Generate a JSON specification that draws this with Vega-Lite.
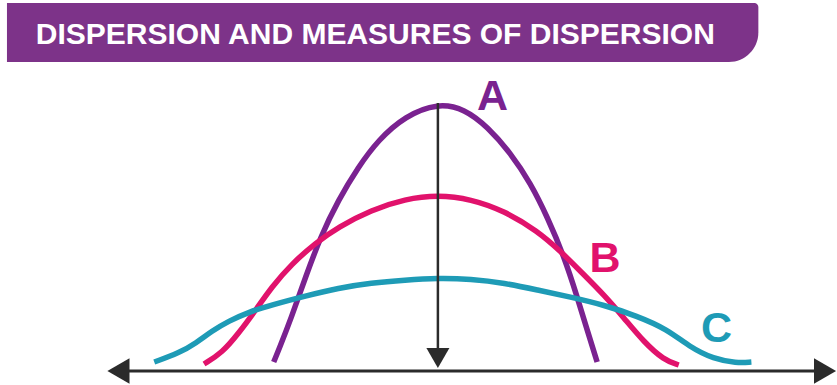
{
  "$schema": "https://vega.github.io/schema/vega-lite/v6.json",
  "width": 837,
  "height": 385,
  "autosize": {"type": "fit", "contains": "padding"},
  "padding": 0,
  "background": "white",
  "config": {"view": {"stroke": null}},
  "datasets": {
    "banner": [{"x": -433, "x2": 322, "y": 368, "y2": 309, "title": "DISPERSION AND MEASURES OF DISPERSION", "tx": -404, "ty": 327}],
    "curves": [
      {"series": "A", "x": -165, "y": 9}, {"series": "A", "x": -160, "y": 21}, {"series": "A", "x": -147, "y": 54},
      {"series": "A", "x": -133, "y": 94}, {"series": "A", "x": -118, "y": 134}, {"series": "A", "x": -100, "y": 171},
      {"series": "A", "x": -80, "y": 204}, {"series": "A", "x": -60, "y": 231}, {"series": "A", "x": -33, "y": 255},
      {"series": "A", "x": 0, "y": 268}, {"series": "A", "x": 27, "y": 262}, {"series": "A", "x": 50, "y": 244},
      {"series": "A", "x": 73, "y": 218}, {"series": "A", "x": 93, "y": 188}, {"series": "A", "x": 110, "y": 154},
      {"series": "A", "x": 127, "y": 114}, {"series": "A", "x": 140, "y": 74}, {"series": "A", "x": 150, "y": 41},
      {"series": "A", "x": 160, "y": 9},
      {"series": "B", "x": -235, "y": 7}, {"series": "B", "x": -217, "y": 18}, {"series": "B", "x": -200, "y": 38},
      {"series": "B", "x": -183, "y": 61}, {"series": "B", "x": -167, "y": 84}, {"series": "B", "x": -147, "y": 107},
      {"series": "B", "x": -123, "y": 128}, {"series": "B", "x": -100, "y": 144}, {"series": "B", "x": -67, "y": 161},
      {"series": "B", "x": -33, "y": 172}, {"series": "B", "x": 0, "y": 176}, {"series": "B", "x": 33, "y": 172},
      {"series": "B", "x": 67, "y": 160}, {"series": "B", "x": 100, "y": 140}, {"series": "B", "x": 123, "y": 120},
      {"series": "B", "x": 145, "y": 98}, {"series": "B", "x": 167, "y": 76}, {"series": "B", "x": 187, "y": 53},
      {"series": "B", "x": 207, "y": 29}, {"series": "B", "x": 227, "y": 11}, {"series": "B", "x": 242, "y": 6},
      {"series": "C", "x": -285, "y": 9}, {"series": "C", "x": -260, "y": 18}, {"series": "C", "x": -243, "y": 28},
      {"series": "C", "x": -227, "y": 40}, {"series": "C", "x": -210, "y": 50}, {"series": "C", "x": -190, "y": 59},
      {"series": "C", "x": -167, "y": 66}, {"series": "C", "x": -133, "y": 75}, {"series": "C", "x": -100, "y": 83},
      {"series": "C", "x": -67, "y": 88}, {"series": "C", "x": -33, "y": 91}, {"series": "C", "x": 0, "y": 93},
      {"series": "C", "x": 33, "y": 92}, {"series": "C", "x": 67, "y": 88}, {"series": "C", "x": 100, "y": 81},
      {"series": "C", "x": 133, "y": 74}, {"series": "C", "x": 167, "y": 66}, {"series": "C", "x": 200, "y": 55},
      {"series": "C", "x": 230, "y": 42}, {"series": "C", "x": 253, "y": 24}, {"series": "C", "x": 277, "y": 12},
      {"series": "C", "x": 300, "y": 8}, {"series": "C", "x": 315, "y": 9}
    ],
    "labels": [
      {"series": "A", "x": 55, "y": 261},
      {"series": "B", "x": 168, "y": 99},
      {"series": "C", "x": 280, "y": 29}
    ],
    "rules": [
      {"x": -325, "x2": 385, "y": 0, "y2": 0, "w": 3},
      {"x": 0, "x2": 0, "y": 268, "y2": 18, "w": 2.5}
    ],
    "arrows": [
      {"x": -321, "y": 0, "shape": "triangle-left", "size": 650},
      {"x": 389, "y": 0, "shape": "triangle-right", "size": 650},
      {"x": 0, "y": 13, "shape": "triangle-down", "size": 530}
    ]
  },
  "layer": [
    {
      "data": {"name": "banner"},
      "mark": {"type": "rect", "color": "#7D3389", "cornerRadiusBottomRight": 30, "cornerRadiusTopRight": 4},
      "encoding": {
        "x": {"field": "x", "type": "quantitative", "scale": {"domain": [-440, 397], "nice": false, "zero": false}, "axis": null},
        "x2": {"field": "x2"},
        "y": {"field": "y", "type": "quantitative", "scale": {"domain": [-14, 371], "nice": false, "zero": false}, "axis": null},
        "y2": {"field": "y2"}
      }
    },
    {
      "data": {"name": "banner"},
      "mark": {"type": "text", "color": "white", "font": "Liberation Sans", "fontWeight": "bold", "fontSize": 30, "align": "left", "baseline": "alphabetic"},
      "encoding": {
        "x": {"field": "tx", "type": "quantitative", "scale": {"domain": [-440, 397], "nice": false, "zero": false}, "axis": null},
        "y": {"field": "ty", "type": "quantitative", "scale": {"domain": [-14, 371], "nice": false, "zero": false}, "axis": null},
        "text": {"field": "title"}
      }
    },
    {
      "data": {"name": "curves"},
      "mark": {"type": "line", "strokeWidth": 5.5, "interpolate": "basis", "strokeCap": "butt"},
      "encoding": {
        "x": {"field": "x", "type": "quantitative", "scale": {"domain": [-440, 397], "nice": false, "zero": false}, "axis": null},
        "y": {"field": "y", "type": "quantitative", "scale": {"domain": [-14, 371], "nice": false, "zero": false}, "axis": null},
        "color": {"field": "series", "type": "nominal", "scale": {"domain": ["A", "B", "C"], "range": ["#7A2290", "#E1126C", "#1E9BB6"]}, "legend": null},
        "order": {"field": "x", "type": "quantitative"}
      }
    },
    {
      "data": {"name": "rules"},
      "mark": {"type": "rule", "color": "#2b2b2b"},
      "encoding": {
        "x": {"field": "x", "type": "quantitative", "scale": {"domain": [-440, 397], "nice": false, "zero": false}, "axis": null},
        "x2": {"field": "x2"},
        "y": {"field": "y", "type": "quantitative", "scale": {"domain": [-14, 371], "nice": false, "zero": false}, "axis": null},
        "y2": {"field": "y2"},
        "strokeWidth": {"field": "w", "type": "quantitative", "scale": null}
      }
    },
    {
      "data": {"name": "arrows"},
      "mark": {"type": "point", "filled": true, "color": "#2b2b2b", "opacity": 1},
      "encoding": {
        "x": {"field": "x", "type": "quantitative", "scale": {"domain": [-440, 397], "nice": false, "zero": false}, "axis": null},
        "y": {"field": "y", "type": "quantitative", "scale": {"domain": [-14, 371], "nice": false, "zero": false}, "axis": null},
        "shape": {"field": "shape", "type": "nominal", "scale": null},
        "size": {"field": "size", "type": "quantitative", "scale": null}
      }
    },
    {
      "data": {"name": "labels"},
      "mark": {"type": "text", "font": "Liberation Sans", "fontWeight": "bold", "fontSize": 43, "align": "center", "baseline": "alphabetic"},
      "encoding": {
        "x": {"field": "x", "type": "quantitative", "scale": {"domain": [-440, 397], "nice": false, "zero": false}, "axis": null},
        "y": {"field": "y", "type": "quantitative", "scale": {"domain": [-14, 371], "nice": false, "zero": false}, "axis": null},
        "text": {"field": "series"},
        "color": {"field": "series", "type": "nominal", "scale": {"domain": ["A", "B", "C"], "range": ["#7A2290", "#E1126C", "#1E9BB6"]}, "legend": null}
      }
    }
  ]
}
